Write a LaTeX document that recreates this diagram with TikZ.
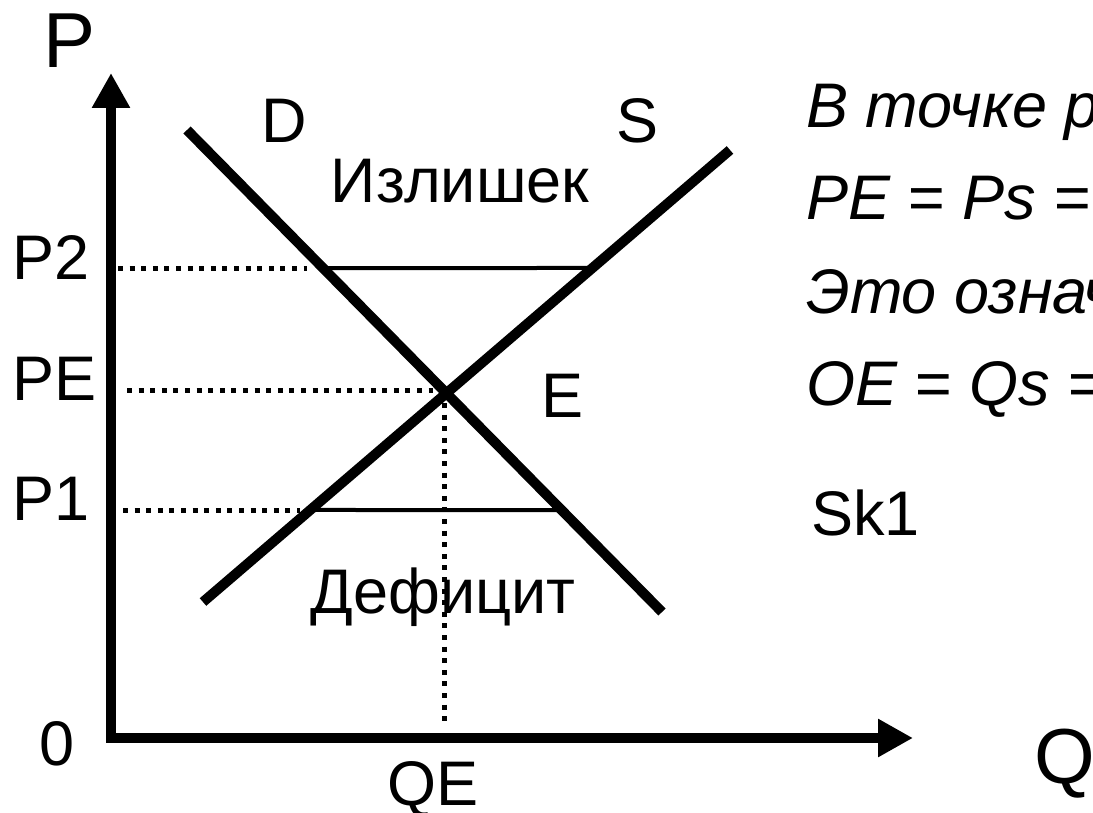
\documentclass[tikz,border=0pt]{standalone}
\usepackage{fontspec}
\setmainfont{Liberation Sans}
\usetikzlibrary{arrows.meta}

\begin{document}
\begin{tikzpicture}[x=0.5pt,y=-0.5pt,>={Triangle[length=17.5pt,width=18pt]},
  axis/.style={line width=5pt,line join=miter},
  curve/.style={line width=5pt},
  guide/.style={line width=2.5pt,dash pattern=on 2.5pt off 3.3pt},
  band/.style={line width=2pt},
  lbl/.style={inner sep=0pt,font=\fontsize{31.5pt}{36pt}\selectfont},
  big/.style={inner sep=0pt,font=\fontsize{39pt}{44pt}\selectfont},
  note/.style={inner sep=0pt,anchor=base west,font=\fontsize{31.5pt}{36pt}\selectfont\itshape}]
\useasboundingbox (0,0) rectangle (1093,813);

% axes
\coordinate (top) at (111,73);
\coordinate (O) at (111,738);
\coordinate (right) at (913,738);
\draw[axis,<->] (top) -- (O) -- (right);

% demand and supply
\coordinate (d1) at (187,130);
\coordinate (d2) at (662,612);
\coordinate (s1) at (203,602);
\coordinate (s2) at (730,150);
\draw[curve] (d1) -- (d2);
\draw[curve] (s1) -- (s2);
\coordinate (E) at (intersection of d1--d2 and s1--s2);

% price levels
\coordinate (p2) at (118,268);
\coordinate (p2g) at (307,268);
\coordinate (p2d) at (intersection of d1--d2 and 0,268--1000,268);
\coordinate (p2s) at (intersection of s1--s2 and 0,268--1000,268);
\coordinate (p1) at (123,510);
\coordinate (p1g) at (300,510);
\coordinate (p1d) at (intersection of d1--d2 and 0,510--1000,510);
\coordinate (p1s) at (intersection of s1--s2 and 0,510--1000,510);
\coordinate (pe) at (127,390);
\coordinate (peg) at (433,390);
\coordinate (qe) at (444,403);
\coordinate (qb) at (444,724);
\draw[guide] (p2) -- (p2g);
\draw[band] (p2d) -- (p2s);
\draw[guide] (p1) -- (p1g);
\draw[band] (p1s) -- (p1d);
\draw[guide] (pe) -- (peg);
\draw[guide] (qe) -- (qb);

% labels
\node[big,anchor=base west] (Plbl) at (43,68) {P};
\node[big,anchor=base west] (Qlbl) at (1034,783) {Q};
\node[lbl,anchor=base west] (Dlbl) at (261,143) {D};
\node[lbl,anchor=base west] (Slbl) at (616,143) {S};
\node[lbl,anchor=base west] (Elbl) at (541,417) {E};
\node[lbl,anchor=base] (surplus) at (460,202) {Излишек};
\node[lbl,anchor=base] (deficit) at (443,613) {Дефицит};
\node[lbl,anchor=base west] (P2lbl) at (12,279) {P2};
\node[lbl,anchor=base west] (PElbl) at (12,400) {PE};
\node[lbl,anchor=base west] (P1lbl) at (12,520) {P1};
\node[lbl,anchor=base] (zero) at (57,765) {0};
\node[lbl,anchor=base] (QElbl) at (433,805) {QE};

% note on the right
\node[note] (n1) at (806,128) {В точке р};
\node[note] (n2) at (806,220) {PE = Ps =};
\node[note] (n3) at (806,313) {Это означ};
\node[note] (n4) at (806,405) {OE = Qs =};
\node[lbl,anchor=base west] (sk) at (811,535) {Sk1};
\end{tikzpicture}
\end{document}
